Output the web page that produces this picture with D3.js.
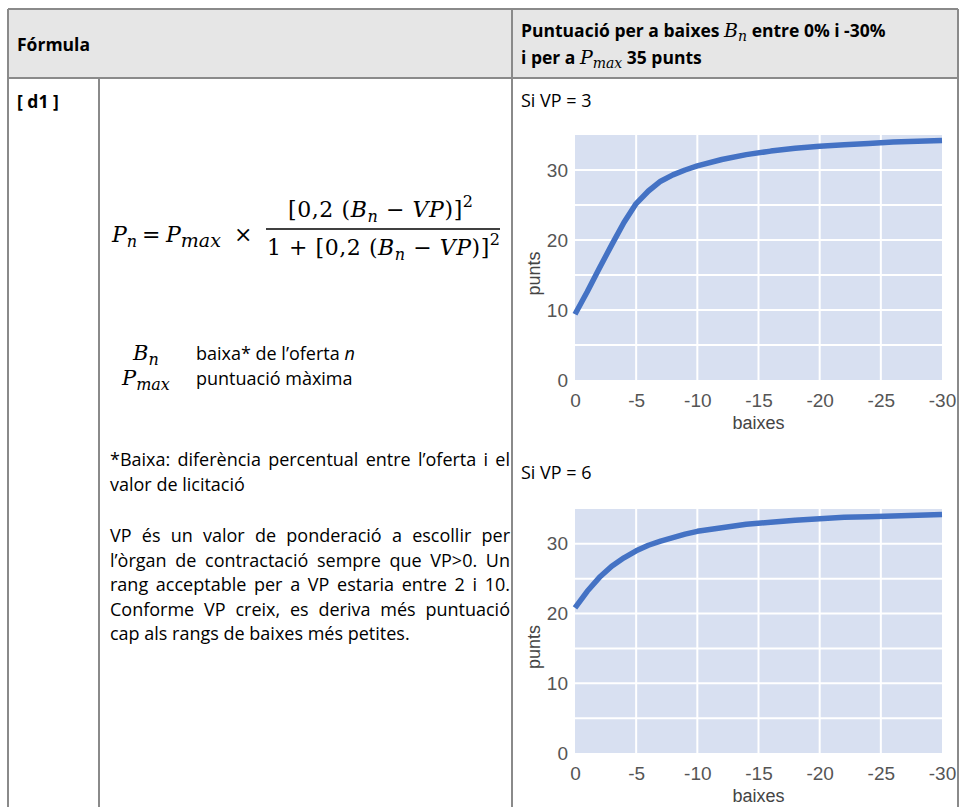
<!DOCTYPE html>
<html>
<head>
<meta charset="utf-8">
<script src="https://cdn.jsdelivr.net/npm/d3@7"></script>
<style>
  body { margin: 0; background: #fff; }
  svg { display: block; }
  .txt { font-family: "Open Sans", sans-serif; font-size: 18px; fill: #000; }
  .bold { font-weight: 700; font-size: 17.5px; }
  .math { font-family: "DejaVu Serif", serif; font-style: italic; font-weight: 400; }
  .up { font-family: "DejaVu Serif", serif; font-style: normal; font-weight: 400; }
  .tick text { font-family: "Liberation Sans", Arial, sans-serif; font-size: 19px; fill: #555; }
  .axis-label { font-family: "Liberation Sans", Arial, sans-serif; font-size: 18px; fill: #444; }
</style>
</head>
<body>
<div id="chart"></div>
<script>
const width = 960;
const height = 807;

// baixes (x) and punts (y)
const baixes    = [0, -1, -2, -3, -4, -5, -6, -7, -8, -9, -10, -12, -14, -16, -18, -20, -22, -24, -26, -28, -30];
const puntsVP3  = [9.4, 12.6, 16.0, 19.3, 22.5, 25.2, 27.0, 28.4, 29.3, 30.0, 30.6, 31.5, 32.2, 32.7, 33.1, 33.4, 33.6, 33.8, 34.0, 34.1, 34.2];
const puntsVP6  = [20.8, 23.2, 25.2, 26.8, 28.0, 29.0, 29.8, 30.4, 30.9, 31.4, 31.8, 32.3, 32.8, 33.1, 33.4, 33.6, 33.8, 33.9, 34.0, 34.1, 34.2];
const xTicks    = [0, -5, -10, -15, -20, -25, -30];
const yTicks    = [0, 10, 20, 30];
const xGrid     = [-5, -10, -15, -20, -25];
const yGrid     = [5, 10, 15, 20, 25, 30];

const svg = d3.select("#chart")
  .append("svg")
  .attr("width", width)
  .attr("height", height);

// --- table frame
const border = "#8a8a8a";
svg.append("rect")
  .attr("x", 8).attr("y", 9).attr("width", 950).attr("height", 69)
  .attr("fill", "#e6e6e6");

[[8, 9, 958, 9], [8, 78, 958, 78], [8, 9, 8, height], [958, 9, 958, height],
 [512, 9, 512, height], [99, 78, 99, height]].forEach(l => {
  svg.append("line")
    .attr("x1", l[0]).attr("y1", l[1]).attr("x2", l[2]).attr("y2", l[3])
    .attr("stroke", border).attr("stroke-width", 2);
});

// rich text helper: parts = [{t, c, dy, fs}]
function rich(parent, x, y, parts, cls) {
  const t = parent.append("text").attr("x", x).attr("y", y).attr("class", cls || "txt");
  parts.forEach(p => {
    const s = t.append("tspan").text(p.t);
    if (p.c) s.attr("class", p.c);
    if (p.dy) s.attr("dy", p.dy);
    if (p.fs) s.attr("font-size", p.fs);
  });
  return t;
}

// justified line: words spread out to width w
function justify(parent, x, y, w, line) {
  const words = line.split(" ");
  const t = parent.append("text").attr("class", "txt").attr("y", y);
  const spans = words.map(wd => t.append("tspan").text(wd));
  const widths = spans.map(s => s.node().getComputedTextLength());
  let total = d3.sum(widths);
  let k = 1;
  const minGap = 3;
  if (total + minGap * (words.length - 1) > w) {
    k = (w - minGap * (words.length - 1)) / total;   // squeeze a little if needed
    t.style("font-size", (18 * k) + "px");
  }
  const ws = widths.map(d => d * k);
  const gap = (w - d3.sum(ws)) / (words.length - 1);
  let cx = x;
  spans.forEach((s, i) => { s.attr("x", cx); cx += ws[i] + gap; });
}

// --- header
rich(svg, 17, 51, [{ t: "Fórmula" }], "txt bold");
rich(svg, 521, 37, [
  { t: "Puntuació per a baixes " },
  { t: "B", c: "math", fs: 19 },
  { t: "n", c: "math", fs: 14, dy: 4 },
  { t: " entre 0% i -30%", dy: -4 }
], "txt bold");
rich(svg, 521, 64, [
  { t: "i per a " },
  { t: "P", c: "math", fs: 19 },
  { t: "max", c: "math", fs: 14, dy: 4 },
  { t: "  35 punts", dy: -4 }
], "txt bold");

rich(svg, 17, 108, [{ t: "[ d1 ]" }], "txt bold");

// --- formula
const f = svg.append("g").attr("font-size", 22);
rich(f, 112, 242, [
  { t: "P", c: "math" },
  { t: "n", c: "math", fs: 16, dy: 5 }
], "math");
rich(f, 142, 242, [{ t: "=" }], "up");
rich(f, 166, 242, [
  { t: "P", c: "math" },
  { t: "max", c: "math", fs: 19, dy: 5 }
], "math");
rich(f, 234, 242, [{ t: "×" }], "up");
f.append("line")
  .attr("x1", 266).attr("x2", 500).attr("y1", 229).attr("y2", 229)
  .attr("stroke", "#000").attr("stroke-width", 1.4);
const numParts = [
  { t: "[0,2 (", c: "up" },
  { t: "B", c: "math" },
  { t: "n", c: "math", fs: 16, dy: 5 },
  { t: " − ", c: "up", dy: -5 },
  { t: "VP", c: "math" },
  { t: ")]", c: "up" },
  { t: "2", c: "up", fs: 16, dy: -10 }
];
rich(f, 288, 217, numParts, "up")
  .attr("textLength", 185).attr("lengthAdjust", "spacing");
rich(f, 267, 255, [{ t: "1 + ", c: "up" }].concat(numParts), "up")
  .attr("textLength", 233).attr("lengthAdjust", "spacing");

// --- definitions
rich(svg, 133, 360, [
  { t: "B", c: "math", fs: 21 },
  { t: "n", c: "math", fs: 16, dy: 5 }
], "txt");
rich(svg, 196, 360, [{ t: "baixa* de l’oferta " }, { t: "n" }], "txt")
  .select("tspan:last-child").style("font-style", "italic");
rich(svg, 122, 385, [
  { t: "P", c: "math", fs: 21 },
  { t: "max", c: "math", fs: 16, dy: 5 }
], "txt");
rich(svg, 196, 385, [{ t: "puntuació màxima" }], "txt");

justify(svg, 110, 466, 400, "*Baixa: diferència percentual entre l’oferta i el");
rich(svg, 110, 491, [{ t: "valor de licitació" }], "txt");

justify(svg, 110, 542, 400, "VP és un valor de ponderació a escollir per");
justify(svg, 110, 567, 400, "l’òrgan de contractació sempre que VP>0. Un");
justify(svg, 110, 591, 400, "rang acceptable per a VP estaria entre 2 i 10.");
justify(svg, 110, 616, 400, "Conforme VP creix, es deriva més puntuació");
rich(svg, 110, 640, [{ t: "cap als rangs de baixes més petites." }], "txt");

// --- charts
function drawChart(title, titleY, top, bottom, values) {
  rich(svg, 521, titleY, [{ t: title }], "txt");

  const x = d3.scaleLinear().domain([0, -30]).range([575, 942]);
  const y = d3.scaleLinear().domain([0, 35]).range([bottom, top]);
  const g = svg.append("g");

  g.append("rect")
    .attr("x", x(0)).attr("y", y(35))
    .attr("width", x(-30) - x(0)).attr("height", y(0) - y(35))
    .attr("fill", "#d8e0f1");

  g.selectAll(".gy").data(yGrid).join("line")
    .attr("x1", x(0)).attr("x2", x(-30))
    .attr("y1", d => y(d)).attr("y2", d => y(d))
    .attr("stroke", "#fff").attr("stroke-width", 2);

  g.selectAll(".gx").data(xGrid).join("line")
    .attr("x1", d => x(d)).attr("x2", d => x(d))
    .attr("y1", y(0)).attr("y2", y(35))
    .attr("stroke", "#fff").attr("stroke-width", 2);

  g.append("path")
    .datum(baixes.map((b, i) => [b, values[i]]))
    .attr("fill", "none")
    .attr("stroke", "#4472c4")
    .attr("stroke-width", 5.5)
    .attr("stroke-linejoin", "round")
    .attr("d", d3.line().x(d => x(d[0])).y(d => y(d[1])));

  g.append("g")
    .attr("transform", `translate(0, ${bottom})`)
    .call(d3.axisBottom(x).tickValues(xTicks).tickSize(0).tickPadding(14).tickFormat(d => String(d)))
    .call(a => a.select(".domain").remove());

  g.append("g")
    .attr("transform", `translate(${x(0)}, 0)`)
    .call(d3.axisLeft(y).tickValues(yTicks).tickSize(0).tickPadding(7))
    .call(a => a.select(".domain").remove());

  g.append("text")
    .attr("class", "axis-label")
    .attr("x", x(-15)).attr("y", bottom + 49)
    .attr("text-anchor", "middle")
    .text("baixes");

  g.append("text")
    .attr("class", "axis-label")
    .attr("transform", `translate(540, ${(top + bottom) / 2 + 16}) rotate(-90)`)
    .attr("text-anchor", "middle")
    .text("punts");
}

drawChart("Si VP = 3", 107, 135, 380, puntsVP3);
drawChart("Si VP = 6", 479, 509, 753, puntsVP6);
</script>
</body>
</html>
